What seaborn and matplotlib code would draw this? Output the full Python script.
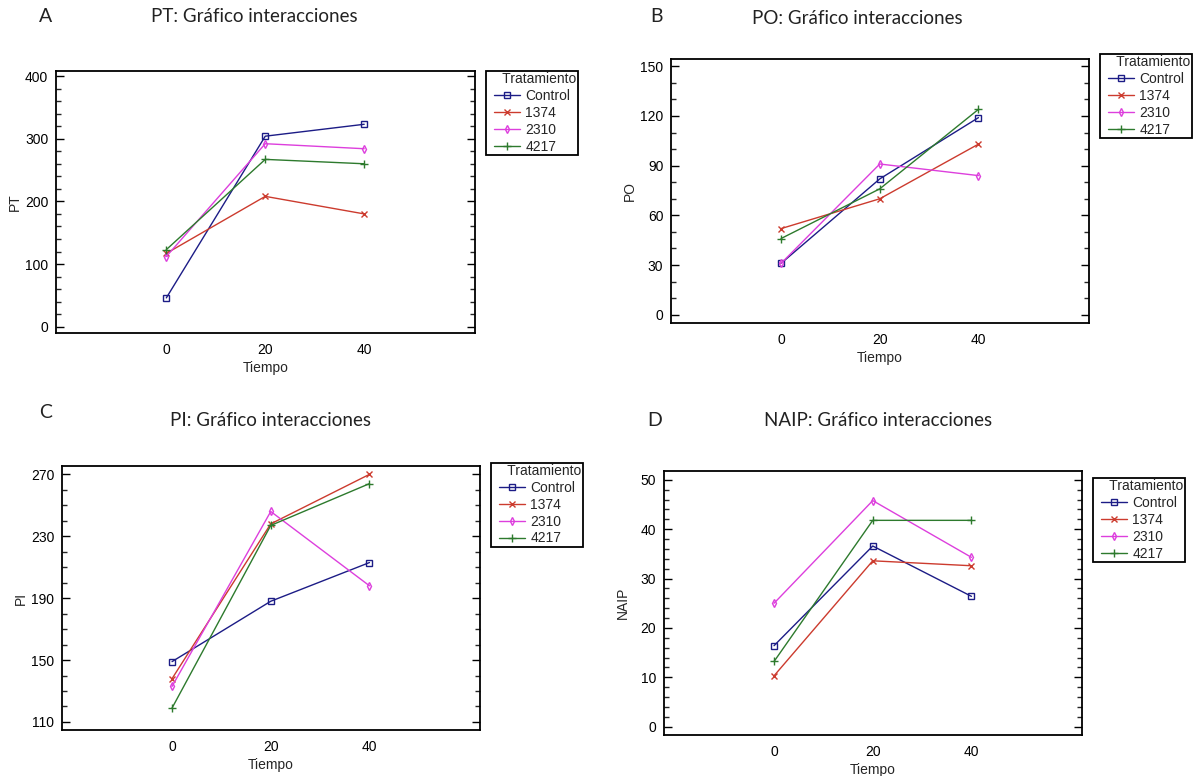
import matplotlib
matplotlib.use("Agg")
import matplotlib.pyplot as plt
from matplotlib.ticker import MultipleLocator
import seaborn as sns

sns.set_theme(style="white")
plt.rcParams['font.family'] = ['Liberation Sans', 'DejaVu Sans']

# ---------------- data ----------------
tiempo = [0, 20, 40]
tratamientos = ["Control", "1374", "2310", "4217"]

pt_control = [46, 304, 323]
pt_1374 = [117, 208, 180]
pt_2310 = [112, 292, 284]
pt_4217 = [123, 267, 260]

po_control = [31, 82, 119]
po_1374 = [52, 70, 103]
po_2310 = [31, 91, 84]
po_4217 = [46, 76, 124]

pi_control = [149, 188, 213]
pi_1374 = [138, 238, 270]
pi_2310 = [133, 246, 198]
pi_4217 = [119, 237, 264]

naip_control = [16.4, 36.6, 26.4]
naip_1374 = [10.3, 33.6, 32.6]
naip_2310 = [25.0, 45.8, 34.3]
naip_4217 = [13.2, 41.8, 41.8]

letters = ["A", "B", "C", "D"]
titles = ["PT: Gráfico interacciones", "PO: Gráfico interacciones",
          "PI: Gráfico interacciones", "NAIP: Gráfico interacciones"]
ylabels = ["PT", "PO", "PI", "NAIP"]
yticks_list = [[0, 100, 200, 300, 400], [0, 30, 60, 90, 120, 150],
               [110, 150, 190, 230, 270], [0, 10, 20, 30, 40, 50]]

# ---------------- styles ----------------
colors = {"Control": "#1c1c86", "1374": "#cc3b2e", "2310": "#dd3fdd", "4217": "#2d7a2d"}
markers = {"Control": "s", "1374": "x", "2310": "d", "4217": "+"}
msizes = {"Control": 5, "1374": 5, "2310": 4, "4217": 5.5}

W, H = 1194, 776

panels = [
    dict(data=[pt_control, pt_1374, pt_2310, pt_4217], ylim=(-10, 408), minor=20,
         box=(56, 71, 475, 333), leg=(486, 71),
         letter=(46, 17), title=(254, 17)),
    dict(data=[po_control, po_1374, po_2310, po_4217], ylim=(-5, 154.4), minor=10,
         box=(671, 59, 1089, 323), leg=(1100, 54),
         letter=(657, 17), title=(857, 18)),
    dict(data=[pi_control, pi_1374, pi_2310, pi_4217], ylim=(104.8, 275.4), minor=10,
         box=(62, 466, 480, 730), leg=(491, 463),
         letter=(46, 413), title=(271, 420)),
    dict(data=[naip_control, naip_1374, naip_2310, naip_4217], ylim=(-1.7, 51.8), minor=2,
         box=(664, 471, 1082, 735), leg=(1093, 478),
         letter=(655, 420), title=(878, 420)),
]

fig = plt.figure(figsize=(W / 100, H / 100), dpi=100)
fig.patch.set_facecolor("white")

for i, p in enumerate(panels):
    x0, y0, x1, y1 = p["box"]
    ax = fig.add_axes([x0 / W, 1 - y1 / H, (x1 - x0) / W, (y1 - y0) / H])
    ax.set_facecolor("white")
    for t, vals in zip(tratamientos, p["data"]):
        c = colors[t]
        sns.lineplot(x=tiempo, y=vals, ax=ax, color=c, marker=markers[t],
                     markersize=msizes[t], mfc="none", mec=c, mew=1.0, linewidth=1.0,
                     label=t, legend=False)
    ax.set_xlim(-22.3, 62.4)
    ax.set_ylim(*p["ylim"])
    ax.set_xticks(tiempo)
    ax.set_yticks(yticks_list[i])
    ax.yaxis.set_minor_locator(MultipleLocator(p["minor"]))
    ax.tick_params(axis="y", which="major", direction="in", length=6, width=1.0,
                   left=True, right=True, labelsize=10, pad=5.5, colors="black")
    ax.tick_params(axis="y", which="minor", direction="in", length=3.5, width=1.0,
                   left=True, right=True)
    ax.tick_params(axis="x", which="both", bottom=False, top=False, length=0,
                   labelsize=10, pad=7, colors="black")
    for s in ax.spines.values():
        s.set_visible(True)
        s.set_color("black")
        s.set_linewidth(1.3)
    ax.set_xlabel("Tiempo", fontsize=10, labelpad=3)
    ax.set_ylabel(ylabels[i], fontsize=10)
    ax.yaxis.set_label_coords(-34 / (x1 - x0), 0.5)
    ax.grid(False)
    h, l = ax.get_legend_handles_labels()
    lx, ly = p["leg"]
    leg = fig.legend(h, l, title="    Tratamiento", loc="upper left",
                     bbox_to_anchor=(lx / W, 1 - ly / H), bbox_transform=fig.transFigure,
                     fontsize=10, title_fontsize=10, frameon=True, fancybox=False,
                     edgecolor="black", framealpha=1, borderpad=0.1,
                     labelspacing=0.2, handlelength=1.9, handletextpad=0.4,
                     borderaxespad=0)
    leg.get_frame().set_linewidth(1.3)
    tx, ty = p["letter"]
    fig.text(tx / W, 1 - ty / H, letters[i], fontsize=14, family="Lato",
             ha="center", va="center", color="#222222")
    tx, ty = p["title"]
    fig.text(tx / W, 1 - ty / H, titles[i], fontsize=13.5, family="Lato",
             ha="center", va="center", color="#222222")

fig.savefig("out.png", dpi=100)
